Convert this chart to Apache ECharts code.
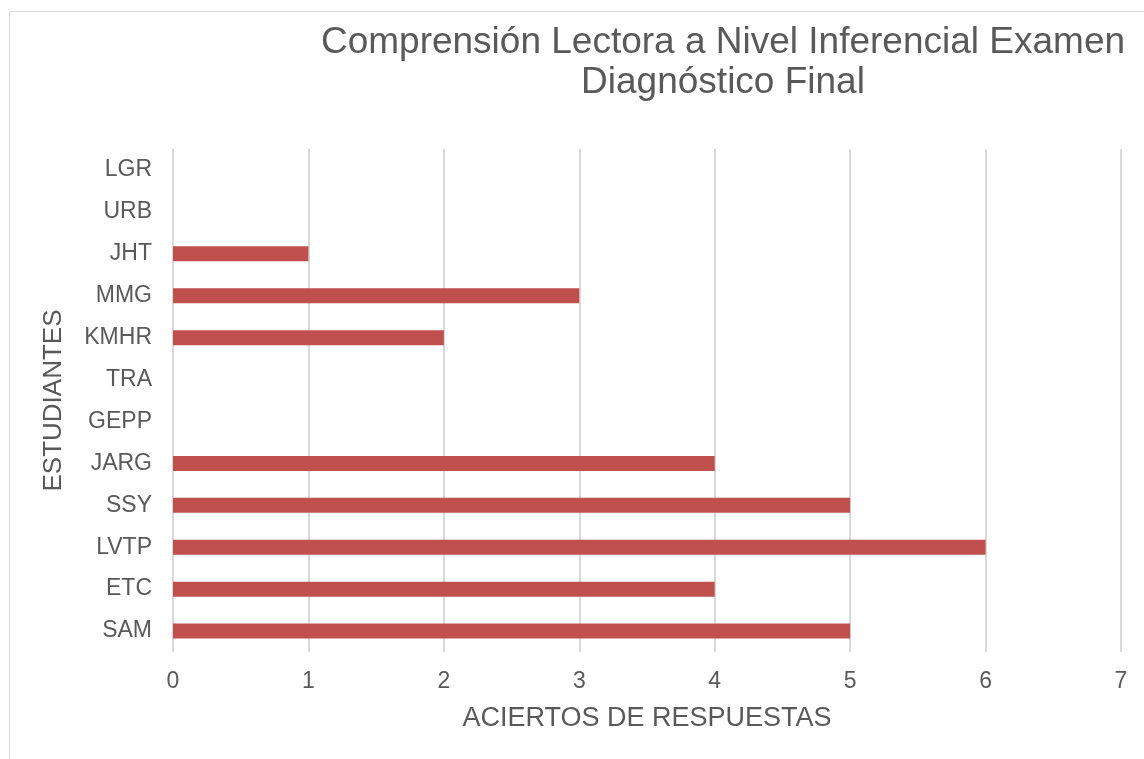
<!DOCTYPE html>
<html>
<head>
<meta charset="utf-8">
<script src="https://cdn.jsdelivr.net/npm/echarts@6/dist/echarts.min.js"></script>
<style>
  html, body { margin: 0; padding: 0; background: #fff; }
  #chart { width: 1144px; height: 759px; }
</style>
</head>
<body>
<div id="chart"></div>
<script>
  // datos (de abajo hacia arriba)
  const estudiantes = ['SAM', 'ETC', 'LVTP', 'SSY', 'JARG', 'GEPP', 'TRA', 'KMHR', 'MMG', 'JHT', 'URB', 'LGR']
  const aciertos = [5, 4, 6, 5, 4, 0, 0, 2, 3, 1, 0, 0]
  const xTicks = [0, 1, 2, 3, 4, 5, 6, 7]

  const myChart = echarts.init(document.getElementById('chart'))
  const option = {
    backgroundColor: '#fff',
    textStyle: { fontFamily: 'Liberation Sans, Arial, sans-serif' },
    graphic: [
      {
        type: 'rect',
        shape: { x: 9.5, y: 11.5, width: 1160, height: 780 },
        style: { fill: 'none', stroke: '#d9d9d9', lineWidth: 1 },
        silent: true
      }
    ],
    title: {
      text: 'Comprensión Lectora a Nivel Inferencial Examen\nDiagnóstico Final',
      left: 718,
      top: 18,
      textAlign: 'center',
      textStyle: {
        color: '#595959',
        fontSize: 37,
        fontWeight: 'normal',
        lineHeight: 40,
        fontFamily: 'Liberation Sans, Arial, sans-serif'
      }
    },
    grid: {
      left: 173,
      right: 23,
      top: 149,
      bottom: 107,
      containLabel: false
    },
    xAxis: {
      type: 'value',
      min: xTicks[0],
      max: xTicks[xTicks.length - 1],
      interval: 1,
      name: 'ACIERTOS DE RESPUESTAS',
      nameLocation: 'middle',
      nameGap: 53,
      nameTextStyle: { color: '#595959', fontSize: 27 },
      axisLine: { show: false },
      axisTick: { show: false },
      axisLabel: { color: '#595959', fontSize: 23, margin: 18 },
      splitLine: { show: true, lineStyle: { color: '#d9d9d9', width: 2 } }
    },
    yAxis: {
      type: 'category',
      data: estudiantes,
      name: 'ESTUDIANTES',
      nameLocation: 'middle',
      nameGap: 106,
      nameRotate: 90,
      nameTextStyle: { color: '#595959', fontSize: 26 },
      axisLine: { show: false },
      axisTick: { show: false },
      axisLabel: { color: '#595959', fontSize: 23, margin: 21 },
      splitLine: { show: false }
    },
    series: [
      {
        name: 'Aciertos',
        type: 'bar',
        data: aciertos,
        barWidth: 15,
        itemStyle: { color: '#c0504d' }
      }
    ]
  }
  myChart.setOption(option)
</script>
</body>
</html>
